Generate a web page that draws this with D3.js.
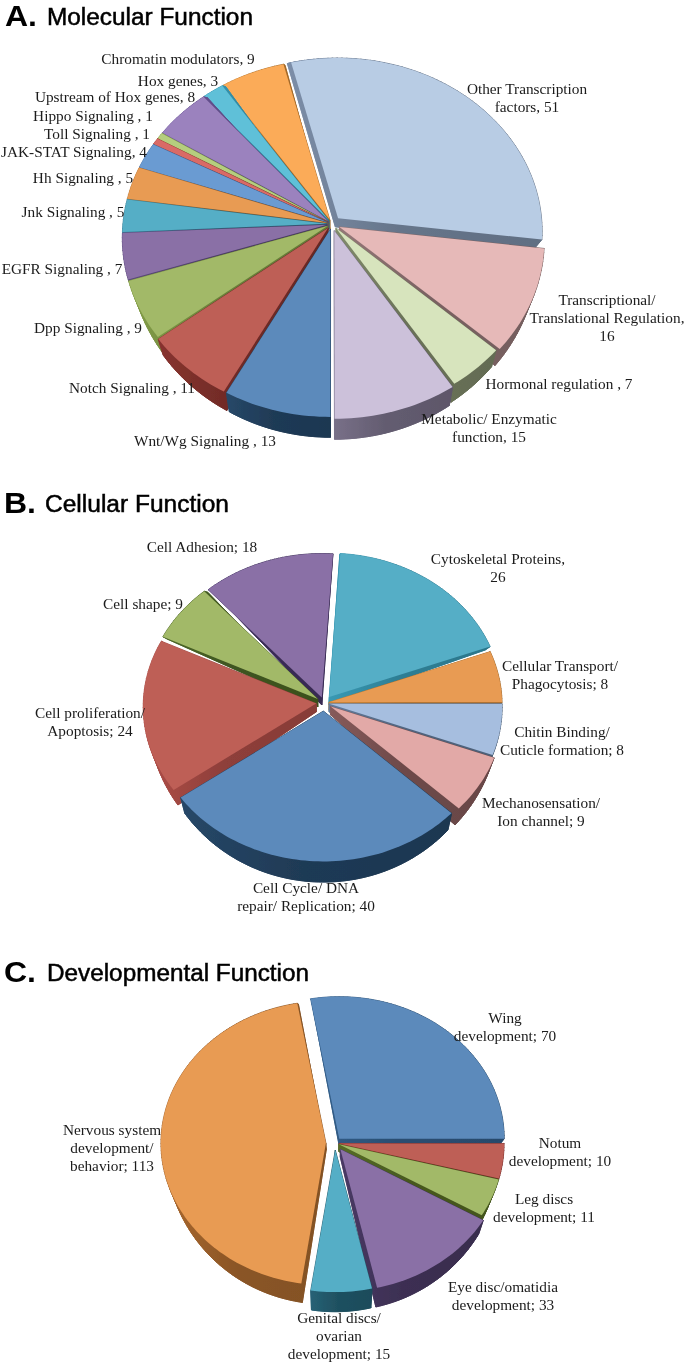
<!DOCTYPE html>
<html><head><meta charset="utf-8">
<script src="https://cdn.jsdelivr.net/npm/d3@7"></script>
<style>html,body{margin:0;background:#fff}svg{display:block}</style>
</head><body><div id="c"></div>
<script>
// ---- Data ----
const valuesA=[51,16,7,15,13,11,9,7,5,5,4,1,1,8,3,9];
const labelsA=[["Other Transcription","factors, 51"],["Transcriptional/","Translational Regulation,","16"],["Hormonal regulation , 7"],["Metabolic/ Enzymatic","function, 15"],["Wnt/Wg Signaling , 13"],["Notch Signaling , 11"],["Dpp Signaling , 9"],["EGFR Signaling , 7"],["Jnk Signaling , 5"],["Hh Signaling , 5"],["JAK-STAT Signaling, 4"],["Toll Signaling , 1"],["Hippo Signaling , 1"],["Upstream of Hox genes, 8"],["Hox genes, 3"],["Chromatin modulators, 9"]];
const valuesB=[26,8,8,9,40,24,9,18];
const labelsB=[["Cytoskeletal Proteins,","26"],["Cellular Transport/","Phagocytosis; 8"],["Chitin Binding/","Cuticle formation; 8"],["Mechanosensation/","Ion channel; 9"],["Cell Cycle/ DNA","repair/ Replication; 40"],["Cell proliferation/","Apoptosis; 24"],["Cell shape; 9"],["Cell Adhesion; 18"]];
const valuesC=[70,10,11,33,15,113];
const labelsC=[["Wing","development; 70"],["Notum","development; 10"],["Leg discs","development; 11"],["Eye disc/omatidia","development; 33"],["Genital discs/","ovarian","development; 15"],["Nervous system","development/","behavior; 113"]];

// ---- Styles / layout ----
const colorsA=["#B8CCE4","#E6B9B8","#D7E4BD","#CCC1DA","#5C8ABB","#BE5F57","#A2B967","#8A70A6","#55AEC6","#E89B53","#6B9BD2","#D96B66","#B5CE7E","#9B82BE","#5FC0D8","#FBAB58"];
const wallsA=["#66758A","#7A6262","#6A7258","#635C70","#1F3A55","#6E2A26","#6A7F3A","#4A3A66","#2E6A7E","#9A6028","#3A5E8C","#8A3430","#6E8440","#5A4880","#2E7E94","#A56A28"];
const explodeA=[.045,.04,.03,.04,.03,.03,.025,.025,.025,.025,.025,.025,.025,.025,.025,.025];
const wallXA=[-5,0,0,0,0,0,0,0,0,0,0,0,0,0,0,0];
const labelPosA=[[527,89],[607,300],[559,384],[489,419],[205,441],[132,388],[88,328],[62,269],[73,212],[83,178],[74,152],[97,134],[93,116],[115,97],[178,81],[178,59]];
const colorsB=["#55AEC6","#E89B53","#A6BEDF","#E2A9A7","#5C8ABB","#BE5F57","#A2B967","#8A70A6"];
const wallsB=["#2E7E94","#A56A28","#51657F","#6E4A4A","#1F3A55","#8E3F3A","#3E5420","#3A2C56"];
const explodeB=[.05,.03,.03,.045,.055,.045,.045,.04];
const labelPosB=[[498,559],[560,666],[562,732],[541,803],[306,888],[90,713],[143,604],[202,547]];
const colorsC=["#5C8ABB","#BE5F57","#A2B967","#8A70A6","#55AEC6","#E89B53"];
const wallsC=["#2A4E72","#7C2A26","#47591F","#3C2F52","#1F5060","#8A5526"];
const explodeC=[.04,.025,.025,.055,.05,.055];
const labelPosC=[[505,1018],[560,1143],[544,1199],[503,1287],[339,1318],[112,1130]];

const pies=[
 {v:valuesA,l:labelsA,c:colorsA,w:wallsA,e:explodeA,wx:wallXA,lp:labelPosA,start:-14.2,cx:332,cy:224,rx:204,ry:173,p:.075,d0:9,d1:11,k:6},
 {v:valuesB,l:labelsB,c:colorsB,w:wallsB,e:explodeB,lp:labelPosB,start:3.8,cx:324,cy:703,rx:173,ry:147,p:.02,d0:8,d1:12,k:5},
 {v:valuesC,l:labelsC,c:colorsC,w:wallsC,e:explodeC,lp:labelPosC,start:-10,cx:335,cy:1143,rx:165,ry:142,p:0,d0:7,d1:12,k:5}
];
const titles=[["A.","Molecular Function",5,47,25,206],["B.","Cellular Function",4,45,512,184],["C.","Developmental Function",4,47,981,262]];

const svg=d3.select("#c").append("svg").attr("width",685).attr("height",1364);
const defs=svg.append("defs");
defs.append("filter").attr("id","soft").attr("x",0).attr("y",0).attr("width",1).attr("height",1)
  .attr("filterUnits","objectBoundingBox")
  .append("feGaussianBlur").attr("stdDeviation",.45);
const root=svg.append("g").attr("filter","url(#soft)");
root.append("rect").attr("width",685).attr("height",1364).attr("fill","#fff");
const line=d3.line();
let gid=0;

pies.forEach(P=>{
  const arcs=d3.pie().sort(null).startAngle(P.start*Math.PI/180).endAngle((P.start+360)*Math.PI/180)(P.v);
  const proj=(u,v)=>[P.cx+P.rx*u/(1-P.p*v),P.cy+P.ry*v/(1-P.p*v)];
  const g=root.append("g");
  const items=arcs.map((a,i)=>{
    const mid=(a.startAngle+a.endAngle)/2, e=P.e[i];
    const ex=e*Math.sin(mid), ey=-e*Math.cos(mid);
    const n=Math.max(3,Math.ceil((a.endAngle-a.startAngle)*40));
    const ang=d3.range(n+1).map(j=>a.startAngle+(a.endAngle-a.startAngle)*j/n);
    const uv=[[ex,ey],...ang.map(t=>[ex+Math.sin(t),ey-Math.cos(t)])];
    return {i,mid,uv};
  }).sort((x,y)=>(-Math.cos(x.mid))-(-Math.cos(y.mid)));
  items.forEach(s=>{
    const wx=P.wx?P.wx[s.i]:0;
    const top=s.uv.map(q=>proj(q[0],q[1]));
    const bot=s.uv.map((q,j)=>{
      const d=Math.max(1,P.d0+P.d1*q[1]);
      return [top[j][0]-P.k*q[0]+wx*(1-q[1])/2,top[j][1]+d];
    });
    const id="w"+(gid++);
    const base=d3.color(P.w[s.i]);
    const grad=defs.append("linearGradient").attr("id",id)
      .attr("gradientUnits","userSpaceOnUse")
      .attr("x1",d3.min(bot,q=>q[0])).attr("x2",d3.max(bot,q=>q[0])).attr("y1",0).attr("y2",0);
    grad.append("stop").attr("offset",0).attr("stop-color",base.brighter(.55).formatHex());
    grad.append("stop").attr("offset",.45).attr("stop-color",base.formatHex());
    grad.append("stop").attr("offset",1).attr("stop-color",base.darker(.15).formatHex());
    const wall=g.append("g").attr("fill",`url(#${id})`).attr("stroke",`url(#${id})`).attr("stroke-width",.8).attr("stroke-linejoin","round");
    const m=top.length;
    for(let j=0;j<m;j++){
      const k=(j+1)%m;
      wall.append("path").attr("d",line([top[j],top[k],bot[k],bot[j]])+"Z");
    }
    wall.append("path").attr("d",line(bot)+"Z");
    g.append("path").attr("d",line(top)+"Z").attr("fill",P.c[s.i]);
  });
  const t=root.append("g").attr("font-family","'Liberation Serif','Times New Roman',serif").attr("font-size",15.3).attr("fill","#1a1a1a").attr("text-anchor","middle");
  P.l.forEach((lines,i)=>{
    const [x,y]=P.lp[i];
    const tx=t.append("text").attr("x",x).attr("y",y+4.5);
    lines.forEach((s,j)=>tx.append("tspan").attr("x",x).attr("y",y+4.5+j*18.3).text(s));
  });
});

titles.forEach(([a,b,x0,x1,y,w])=>{
  root.append("text").attr("x",x0).attr("y",y+1).attr("font-family","'Liberation Sans',Arial,sans-serif").attr("font-weight",700).attr("font-size",29).attr("fill","#000").attr("textLength",32).attr("lengthAdjust","spacingAndGlyphs").text(a);
  root.append("text").attr("x",x1).attr("y",y).attr("font-family","'Liberation Sans',Arial,sans-serif").attr("font-size",23.5).attr("fill","#000").attr("stroke","#000").attr("stroke-width",.5).attr("textLength",w).attr("lengthAdjust","spacingAndGlyphs").text(b);
});
</script></body></html>
